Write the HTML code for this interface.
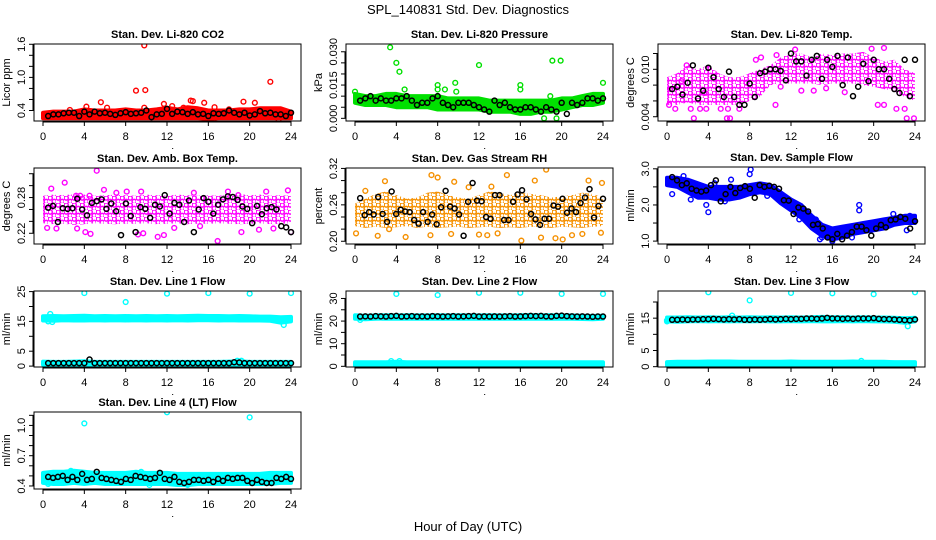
<!DOCTYPE html>
<html><head><meta charset="utf-8"><title>SPL_140831 Std. Dev. Diagnostics</title>
<style>
body{margin:0;background:#fff;}
svg{display:block;font-family:"Liberation Sans",Arial,sans-serif;}
.t{font-size:11px;font-weight:bold;text-anchor:middle;}
.tk{font-size:11px;text-anchor:middle;}
</style></head>
<body>
<svg id="chart" width="936" height="540" viewBox="0 0 936 540" xmlns="http://www.w3.org/2000/svg">
<rect width="936" height="540" fill="#fff"/>
<text x="468" y="14" font-size="13" text-anchor="middle">SPL_140831  Std. Dev. Diagnostics</text>
<text x="468" y="531" font-size="13" text-anchor="middle">Hour of Day (UTC)</text>
</svg>
<script>
// ---------- data ----------
const xTicks = [0,4,8,12,16,20,24];
// P1 CO2
const p1BandLo=[0.26,0.26,0.26,0.26,0.26,0.26,0.26,0.26,0.26,0.26,0.26,0.26,0.26,0.26,0.26,0.26,0.25,0.26,0.26,0.26,0.26,0.26,0.26,0.26,0.26];
const p1BandHi=[0.36,0.38,0.38,0.38,0.42,0.40,0.40,0.40,0.42,0.40,0.40,0.42,0.45,0.42,0.46,0.44,0.40,0.40,0.40,0.42,0.42,0.44,0.44,0.44,0.38];
const p1ColH=[9.8,9,9.9,22,5.6,14.3,14.5,15.6,19.4,20.5,11.7,12.5,4.2,6.2,16.6,9.8,13.6,2.6,18,22.8,16.5];
const p1ColV=[1.58,0.76,0.77,0.92,0.55,0.58,0.57,0.54,0.56,0.54,0.52,0.48,0.47,0.45,0.46,0.45,0.45,0.41,0.42,0.24,0.23];
const p1Blk=[0.30,0.33,0.33,0.35,0.36,0.36,0.30,0.38,0.33,0.38,0.35,0.36,0.34,0.32,0.35,0.37,0.34,0.35,0.36,0.40,0.28,0.33,0.34,0.43,0.34,0.38,0.37,0.34,0.37,0.33,0.34,0.30,0.35,0.34,0.35,0.40,0.36,0.33,0.36,0.31,0.33,0.39,0.35,0.36,0.33,0.33,0.30,0.36];
// P2 Pressure
const p2BandLo=[0.007,0.006,0.006,0.006,0.005,0.005,0.005,0.005,0.004,0.004,0.004,0.004,0.004,0.003,0.003,0.003,0.002,0.002,0.003,0.003,0.004,0.005,0.006,0.006,0.007];
const p2BandHi=[0.011,0.010,0.010,0.011,0.011,0.010,0.010,0.010,0.010,0.009,0.009,0.009,0.009,0.008,0.008,0.008,0.008,0.008,0.008,0.008,0.009,0.009,0.010,0.011,0.011];
const p2ColH=[3.4,4,4.3,4.8,8,8,8.7,9.7,12,16,16,19.1,19.9,24,0,18.3,19.5,18.9,9.8];
const p2ColV=[0.032,0.025,0.021,0.013,0.015,0.013,0.013,0.016,0.024,0.015,0.013,0.026,0.026,0.016,0.012,0.000,0.000,0.010,0.012];
const p2Blk=[0.008,0.009,0.010,0.008,0.009,0.008,0.008,0.009,0.009,0.010,0.008,0.006,0.007,0.007,0.009,0.010,0.007,0.006,0.005,0.007,0.007,0.007,0.006,0.005,0.004,0.003,0.008,0.006,0.007,0.005,0.004,0.004,0.005,0.005,0.004,0.003,0.005,0.004,0.003,0.007,0.002,0.007,0.006,0.007,0.009,0.009,0.008,0.009];
// P3 Li-820 Temp
const p3BandLo=[0.0055,0.0055,0.0058,0.0055,0.0055,0.0055,0.0055,0.0055,0.006,0.0065,0.008,0.0082,0.0082,0.0082,0.0082,0.008,0.0082,0.0082,0.0082,0.008,0.0078,0.0075,0.0072,0.0065,0.006];
const p3BandHi=[0.009,0.0095,0.0105,0.010,0.0105,0.0095,0.009,0.009,0.0095,0.010,0.0105,0.0115,0.012,0.012,0.0115,0.012,0.0118,0.012,0.012,0.0122,0.0115,0.011,0.0112,0.010,0.0095];
const p3ColH=[0.2,0.8,2.3,3.2,3.8,5.2,5.9,7,2.6,5.8,6.1,23.2,23.9,10.5,13,14.2,15.4,17.2,20.4,21,22.2,23,9.1,8.6,12.4,19.8,21,1.9,10.6,0.3,1.4,3.6,7.7,11];
const p3ColV=[0.0055,0.005,0.005,0.005,0.005,0.005,0.005,0.005,0.0038,0.0038,0.0038,0.0038,0.0038,0.0055,0.0073,0.0073,0.0076,0.0071,0.0055,0.0055,0.005,0.005,0.0115,0.0112,0.0125,0.0126,0.0127,0.0105,0.0118,0.0075,0.0085,0.007,0.0083,0.0078];
const p3Blk=[0.0075,0.0078,0.0068,0.0083,0.0105,0.0063,0.0073,0.0102,0.0090,0.0075,0.0065,0.0097,0.0065,0.0055,0.0055,0.0082,0.0065,0.0095,0.0097,0.0100,0.0100,0.0098,0.0086,0.0120,0.0110,0.0110,0.0092,0.0112,0.0117,0.0088,0.0112,0.0103,0.0117,0.0080,0.0115,0.0066,0.0078,0.0107,0.0085,0.0112,0.0100,0.0100,0.0088,0.0075,0.0070,0.0112,0.0066,0.0112];
// P4 Amb Box Temp
const p4BandLo=[0.237,0.235,0.236,0.234,0.235,0.237,0.236,0.235,0.236,0.236,0.237,0.235,0.236,0.237,0.235,0.236,0.236,0.237,0.236,0.235,0.236,0.237,0.235,0.236,0.237];
const p4BandHi=[0.283,0.285,0.284,0.286,0.285,0.283,0.284,0.285,0.284,0.283,0.285,0.284,0.283,0.285,0.284,0.283,0.284,0.283,0.285,0.286,0.284,0.285,0.283,0.284,0.283];
const p4ColH=[5.2,2.1,0.8,5.9,3.2,3.6,4.5,7.1,8.1,9.5,14.6,17.9,21.6,23.7,0.4,1.3,3.3,4.1,4.6,9.2,9.7,11.1,11.7,16.9,19.2,20.9,22.3,24,15.2,12.7,18.9];
const p4ColV=[0.325,0.305,0.295,0.293,0.283,0.283,0.283,0.288,0.29,0.29,0.288,0.29,0.29,0.292,0.229,0.228,0.228,0.222,0.219,0.218,0.22,0.214,0.217,0.207,0.222,0.226,0.228,0.222,0.232,0.229,0.284];
const p4Blk=[0.263,0.266,0.239,0.262,0.261,0.262,0.278,0.260,0.250,0.271,0.274,0.277,0.261,0.270,0.257,0.217,0.270,0.249,0.222,0.264,0.261,0.246,0.268,0.265,0.284,0.253,0.271,0.268,0.239,0.275,0.222,0.260,0.279,0.273,0.253,0.268,0.277,0.282,0.281,0.276,0.265,0.261,0.237,0.266,0.252,0.262,0.264,0.260,0.232,0.230,0.222];
// P5 Gas Stream RH
const p5BandLo=[0.225,0.222,0.224,0.222,0.223,0.225,0.222,0.224,0.222,0.223,0.224,0.222,0.223,0.224,0.222,0.223,0.222,0.224,0.223,0.222,0.224,0.223,0.222,0.224,0.225];
const p5BandHi=[0.262,0.270,0.278,0.282,0.276,0.270,0.272,0.280,0.282,0.276,0.272,0.270,0.276,0.282,0.280,0.276,0.280,0.278,0.276,0.272,0.274,0.276,0.280,0.278,0.272];
const p5ColH=[16.1,18.5,7.4,14.7,9.6,17.4,22.6,2.9,23.9,8,0.1,2.2,4.9,7.3,9.3,12,12.8,13.8,18,19.4,20.1,21,22,23.8,3.3,1,11,13.2];
const p5ColV=[0.201,0.318,0.309,0.309,0.298,0.300,0.300,0.299,0.296,0.305,0.213,0.209,0.207,0.210,0.212,0.211,0.210,0.213,0.206,0.205,0.203,0.210,0.212,0.214,0.22,0.283,0.289,0.290];
const p5Blk=[0.271,0.243,0.248,0.244,0.273,0.245,0.232,0.282,0.245,0.252,0.249,0.248,0.235,0.229,0.248,0.232,0.244,0.228,0.256,0.283,0.257,0.254,0.244,0.209,0.265,0.296,0.267,0.266,0.240,0.237,0.276,0.276,0.235,0.235,0.265,0.277,0.284,0.269,0.245,0.236,0.227,0.237,0.237,0.259,0.257,0.270,0.247,0.254,0.248,0.263,0.272,0.286,0.239,0.258,0.270];
// P6 Sample Flow
const p6BandLo=[2.55,2.5,2.35,2.2,2.2,2.15,2.15,2.2,2.3,2.35,2.3,2.05,1.85,1.65,1.35,1.15,1.05,1.1,1.2,1.25,1.3,1.35,1.45,1.5,1.5];
const p6BandHi=[2.75,2.75,2.7,2.6,2.5,2.5,2.5,2.5,2.55,2.6,2.55,2.35,2.15,2.0,1.7,1.45,1.35,1.4,1.45,1.5,1.55,1.6,1.65,1.7,1.7];
const p6ColH=[8.1,8,18.6,18.6,4,3.8,2.3,1.6,6.2,9.7,4.6,15,16,17.9,23.2,21.9,23.5,0.5,5.6,12.8,14.4,14.8];
const p6ColV=[2.98,2.85,2.0,1.85,1.8,2.0,2.15,2.8,2.7,2.25,2.6,1.1,1.0,1.1,1.3,1.75,1.7,2.3,2.1,1.6,1.6,1.05];
const p6Blk=[2.77,2.68,2.55,2.6,2.45,2.4,2.37,2.4,2.55,2.68,2.1,2.3,2.5,2.33,2.47,2.52,2.45,2.2,2.55,2.5,2.53,2.5,2.45,2.13,2.12,1.75,1.93,1.9,1.82,1.45,1.47,1.35,1.1,1.05,1.2,1.05,1.15,1.25,1.4,1.4,1.3,1.15,1.35,1.45,1.38,1.58,1.6,1.67,1.62,1.35,1.55];
// P7 Line 1 Flow
const p7BandLo=[15.3,15.2,15.4,15.3,15.3,15.4,15.3,15.4,15.3,15.4,15.3,15.4,15.3,15.4,15.3,15.4,15.4,15.3,15.4,15.3,15.3,15.3,15.2,14.6,15.0];
const p7BandHi=[16.7,16.8,16.7,16.8,16.9,16.7,16.8,16.7,16.8,16.7,16.8,16.7,16.8,16.7,16.8,16.9,16.8,16.8,16.7,16.8,16.7,16.6,16.6,16.4,16.5];
const p7Band2Lo=[0.5,0.5,0.5,0.5,0.5,0.5,0.5,0.5,0.5,0.5,0.5,0.5,0.5,0.5,0.5,0.5,0.5,0.5,0.5,0.5,0.5,0.5,0.5,0.5,0.5];
const p7Band2Hi=[1.5,1.4,1.4,1.5,1.6,1.4,1.4,1.4,1.4,1.4,1.4,1.4,1.4,1.4,1.4,1.4,1.4,1.4,1.5,1.6,1.4,1.4,1.4,1.4,1.4];
const p7ColH=[4,8,12,16,20,24,0.7,23.3,0.5,0.9,18.8,19.2,11.7];
const p7ColV=[24.5,21.5,24.3,24.5,24.3,24.5,17.5,13.8,15,14.8,1.8,1.8,0.2];
const p7Blk=[1.0,1.0,1.0,1.0,1.0,1.0,1.0,1.0,2.2,1.0,1.0,1.0,1.0,1.0,1.0,1.0,1.0,1.0,1.0,1.0,1.0,1.0,1.0,1.0,1.0,1.0,1.0,1.0,1.0,1.0,1.0,1.0,1.0,1.0,1.0,1.0,1.3,1.2,1.0,1.0,1.0,1.0,1.0,1.0,1.0,1.0,1.0,1.0];
// P8 Line 2 Flow
const p8BandLo=[21.0,20.8,21.0,21.1,21.0,21.1,21.0,21.1,21.0,21.1,21.0,21.0,21.1,21.0,21.1,21.0,21.0,21.1,21.0,21.1,21.0,21.0,20.9,20.8,21.0];
const p8BandHi=[22.6,22.4,22.5,22.6,22.5,22.6,22.5,22.5,22.6,22.5,22.6,22.5,22.5,22.6,22.5,22.5,22.6,22.7,22.6,22.6,22.5,22.5,22.4,22.3,22.4];
const p8Band2Lo=[0.4,0.4,0.4,0.4,0.4,0.4,0.4,0.4,0.4,0.4,0.4,0.4,0.4,0.4,0.4,0.4,0.4,0.4,0.4,0.4,0.4,0.4,0.4,0.4,0.4];
const p8Band2Hi=[1.8,1.8,1.8,1.8,2.0,1.8,1.8,1.8,1.8,1.8,1.8,1.8,1.8,1.8,1.8,1.8,1.8,1.8,1.8,1.8,1.8,1.8,1.8,1.8,1.8];
const p8ColH=[4,8,12,16,20,24,3.5,4.3,0.5];
const p8ColV=[32,31.5,32.5,32.5,32,32,2.3,2.3,20.5];
const p8Blk=[22.0,22.1,22.0,22.2,22.1,22.0,22.2,22.3,22.0,22.1,22.2,22.0,22.1,22.0,22.2,22.1,22.0,22.1,22.2,22.0,22.1,22.2,22.3,22.0,22.1,22.0,22.1,22.0,22.1,22.2,22.0,22.1,22.2,22.3,22.2,22.3,22.1,22.0,22.3,22.4,22.2,22.1,22.0,22.1,22.0,21.9,22.0,22.0];
// P9 Line 3 Flow
const p9BandLo=[14.0,13.9,14.0,14.1,14.0,14.1,14.0,14.1,14.0,14.1,14.0,14.0,14.1,14.0,14.1,14.0,14.0,14.1,14.0,14.1,14.0,14.0,13.9,13.6,14.0];
const p9BandHi=[15.2,15.2,15.3,15.2,15.3,15.2,15.3,15.2,15.3,15.2,15.3,15.2,15.3,15.2,15.3,15.4,15.3,15.3,15.2,15.3,15.2,15.2,15.1,15.0,15.1];
const p9Band2Lo=[0.4,0.4,0.4,0.4,0.4,0.4,0.4,0.4,0.4,0.4,0.4,0.4,0.4,0.4,0.4,0.4,0.4,0.4,0.4,0.4,0.4,0.4,0.4,0.4,0.4];
const p9Band2Hi=[1.4,1.5,1.5,1.5,1.6,1.6,1.6,1.5,1.5,1.5,1.5,1.5,1.6,1.5,1.5,1.5,1.5,1.5,1.6,1.5,1.5,1.5,1.4,1.4,1.4];
const p9ColH=[4,8,12,16,20,24,23.3,6.3,18.8,0,0];
const p9ColV=[23,20.5,22.8,22.7,22.4,23,12.5,15.8,1.8,14.3,14.0];
const p9Blk=[14.5,14.5,14.6,14.5,14.6,14.6,14.7,14.7,14.8,14.7,14.6,14.7,14.6,14.7,14.5,14.5,14.6,14.5,14.6,14.7,14.6,14.7,14.8,14.7,14.8,14.8,14.9,14.9,14.8,14.9,15.1,14.9,14.9,14.8,14.9,14.8,14.9,14.9,14.9,15.0,14.8,14.7,14.7,14.6,14.5,14.4,14.3,14.6];
// P10 Line 4 (LT) Flow
const p10BandLo=[0.43,0.42,0.42,0.43,0.42,0.43,0.42,0.42,0.42,0.42,0.42,0.42,0.42,0.41,0.41,0.42,0.42,0.42,0.42,0.42,0.42,0.42,0.42,0.43,0.43];
const p10BandHi=[0.53,0.54,0.54,0.55,0.54,0.53,0.53,0.53,0.53,0.54,0.53,0.53,0.53,0.52,0.52,0.52,0.52,0.52,0.52,0.52,0.52,0.52,0.53,0.53,0.53];
const p10ColH=[4,12,20,2.7,9.5,14,10.3,0.5];
const p10ColV=[1.02,1.13,1.08,0.55,0.54,0.41,0.41,0.42];
const p10Blk=[0.49,0.48,0.49,0.50,0.46,0.49,0.46,0.52,0.46,0.47,0.54,0.48,0.47,0.46,0.45,0.44,0.47,0.46,0.50,0.49,0.48,0.47,0.48,0.53,0.47,0.46,0.49,0.44,0.43,0.44,0.46,0.46,0.45,0.46,0.44,0.47,0.45,0.48,0.47,0.48,0.48,0.45,0.43,0.46,0.44,0.43,0.43,0.48,0.47,0.49,0.47];

// ---------- layout ----------
const panels=[
 {name:'co2',title:'Stan. Dev. Li-820 CO2',yt:'Licor ppm',col:0,top:44,bot:121,ymin:0.21,ymax:1.605,ticks:[0.4,0.6,0.8,1.0,1.2,1.4,1.6],labels:['0.4','1.0','1.6'],labelAt:[0.4,1.0,1.6],color:'#ff0000',tex:false,bands:[[p1BandLo,p1BandHi]],colH:p1ColH,colV:p1ColV,blk:p1Blk},
 {name:'pressure',title:'Stan. Dev. Li-820 Pressure',yt:'kPa',col:1,top:44,bot:121,ymin:-0.0012,ymax:0.0335,ticks:[0,0.005,0.01,0.015,0.02,0.025,0.03],labels:['0.000','0.015','0.030'],labelAt:[0,0.015,0.03],color:'#00e000',tex:false,bands:[[p2BandLo,p2BandHi]],colH:p2ColH,colV:p2ColV,blk:p2Blk},
 {name:'li820-temp',title:'Stan. Dev. Li-820 Temp.',yt:'degrees C',col:2,top:44,bot:121,ymin:0.00346,ymax:0.0132,ticks:[0.004,0.006,0.008,0.010,0.012],labels:['0.004','0.010'],labelAt:[0.004,0.010],color:'#ff00ff',tex:true,bands:[[p3BandLo,p3BandHi]],colH:p3ColH,colV:p3ColV,blk:p3Blk},
 {name:'amb-box-temp',title:'Stan. Dev. Amb. Box Temp.',yt:'degrees C',col:0,top:168,bot:244,ymin:0.202,ymax:0.3296,ticks:[0.22,0.24,0.26,0.28,0.30,0.32],labels:['0.22','0.28'],labelAt:[0.22,0.28],color:'#ff00ff',tex:true,bands:[[p4BandLo,p4BandHi]],colH:p4ColH,colV:p4ColV,blk:p4Blk},
 {name:'gas-rh',title:'Stan. Dev. Gas Stream RH',yt:'percent',col:1,top:168,bot:244,ymin:0.1955,ymax:0.3207,ticks:[0.20,0.22,0.24,0.26,0.28,0.30,0.32],labels:['0.20','0.26','0.32'],labelAt:[0.20,0.26,0.32],color:'#f59000',tex:true,bands:[[p5BandLo,p5BandHi]],colH:p5ColH,colV:p5ColV,blk:p5Blk},
 {name:'sample-flow',title:'Stan. Dev. Sample Flow',yt:'ml/min',col:2,top:167,bot:244,ymin:0.92,ymax:3.05,ticks:[1.0,1.5,2.0,2.5,3.0],labels:['1.0','2.0','3.0'],labelAt:[1.0,2.0,3.0],color:'#0000ff',tex:false,bands:[[p6BandLo,p6BandHi]],colH:p6ColH,colV:p6ColV,blk:p6Blk},
 {name:'line1-flow',title:'Stan. Dev. Line 1 Flow',yt:'ml/min',col:0,top:291,bot:367,ymin:-0.3,ymax:25.2,ticks:[0,5,10,15,20,25],labels:['0','5','15','25'],labelAt:[0,5,15,25],color:'#00ffff',tex:false,bands:[[p7BandLo,p7BandHi],[p7Band2Lo,p7Band2Hi]],colH:p7ColH,colV:p7ColV,blk:p7Blk},
 {name:'line2-flow',title:'Stan. Dev. Line 2 Flow',yt:'ml/min',col:1,top:291,bot:367,ymin:-0.3,ymax:33.3,ticks:[0,5,10,15,20,25,30],labels:['0','10','20','30'],labelAt:[0,10,20,30],color:'#00ffff',tex:false,bands:[[p8BandLo,p8BandHi],[p8Band2Lo,p8Band2Hi]],colH:p8ColH,colV:p8ColV,blk:p8Blk},
 {name:'line3-flow',title:'Stan. Dev. Line 3 Flow',yt:'ml/min',col:2,top:291,bot:367,ymin:-0.1,ymax:23.4,ticks:[0,5,10,15,20],labels:['0','5','15'],labelAt:[0,5,15],color:'#00ffff',tex:false,bands:[[p9BandLo,p9BandHi],[p9Band2Lo,p9Band2Hi]],colH:p9ColH,colV:p9ColV,blk:p9Blk},
 {name:'line4-flow',title:'Stan. Dev. Line 4 (LT) Flow',yt:'ml/min',col:0,top:412,bot:489,ymin:0.37,ymax:1.133,ticks:[0.4,0.5,0.6,0.7,0.8,0.9,1.0,1.1],labels:['0.4','0.7','1.0'],labelAt:[0.4,0.7,1.0],color:'#00ffff',tex:false,bands:[[p10BandLo,p10BandHi]],colH:p10ColH,colV:p10ColV,blk:p10Blk}
];

const NS='http://www.w3.org/2000/svg';
const svg=document.getElementById('chart');
function mk(tag,attrs,parent){const e=document.createElementNS(NS,tag);for(const k in attrs)e.setAttribute(k,attrs[k]);(parent||svg).appendChild(e);return e;}
const defs=mk('defs',{});

panels.forEach(p=>{
  const L=34+312*p.col, R=301+312*p.col;
  const x0=43+312*p.col, x24=291+312*p.col;
  const xs=h=>x0+(x24-x0)*h/24;
  const ys=v=>p.bot-(v-p.ymin)/(p.ymax-p.ymin)*(p.bot-p.top);
  let fill=p.color;
  if(p.tex){
    const pat=mk('pattern',{id:'pat-'+p.name,width:8,height:7,patternUnits:'userSpaceOnUse'},defs);
    mk('circle',{cx:2.2,cy:2,r:2.1,fill:'none',stroke:p.color,'stroke-width':1.5},pat);
    mk('circle',{cx:6.2,cy:5.5,r:2.1,fill:'none',stroke:p.color,'stroke-width':1.5},pat);
    fill='url(#pat-'+p.name+')';
  }
  const g=mk('g',{});
  
  
  const clip=mk('clipPath',{id:'clip-'+p.name},g);
  mk('rect',{x:L,y:p.top,width:R-L,height:p.bot-p.top},clip);
  const plot=mk('g',{'clip-path':'url(#clip-'+p.name+')'},g);
  
  
  p.bands.forEach((b,bi)=>{
    const lo=b[0],hi=b[1];const n=lo.length;let pts=[];
    for(let i=0;i<n;i++)pts.push(xs(i*24/(n-1)).toFixed(1)+','+ys(hi[i]).toFixed(1));
    for(let i=n-1;i>=0;i--)pts.push(xs(i*24/(n-1)).toFixed(1)+','+ys(lo[i]).toFixed(1));
    const poly=mk('polygon',{points:pts.join(' '),fill:fill,stroke:p.tex?'none':p.color,'stroke-width':4,'stroke-linejoin':'round'},plot);
    
    
  });
  p.colV.forEach((v,i)=>{
    const c=mk('circle',{cx:xs(p.colH[i]),cy:ys(v),r:2.4,fill:'none',stroke:p.color,'stroke-width':1.4},plot);
    
    
  });
  const nb=p.blk.length;
  p.blk.forEach((v,i)=>{
    const h=0.5+i*23.5/(nb-1);
    const c=mk('circle',{cx:xs(h),cy:ys(v),r:2.5,fill:'none',stroke:'#000','stroke-width':1.5},plot);
    
    
  });
  const box=mk('rect',{x:L,y:p.top,width:R-L,height:p.bot-p.top,fill:'none',stroke:'#000','stroke-width':1},g);
  
  
  const t=mk('text',{x:(L+R)/2,y:p.top-6,class:'t'},g);t.textContent=p.title;
  
  
  const xa=mk('g',{},g);
  
  
  mk('line',{x1:x0,x2:x24,y1:p.bot+1,y2:p.bot+1,stroke:'#000'},xa);
  xTicks.forEach(h=>{
    mk('line',{x1:xs(h),x2:xs(h),y1:p.bot,y2:p.bot+5,stroke:'#000'},xa);
    const tx=mk('text',{x:xs(h),y:p.bot+19,class:'tk'},xa);tx.textContent=h;
  });
  mk('rect',{x:xs(12.5),y:p.bot+27,width:1,height:1,fill:'#000'},xa);
  const ya=mk('g',{},g);
  
  
  mk('line',{x1:L-1,x2:L-1,y1:ys(p.ticks[0]),y2:ys(p.ticks[p.ticks.length-1]),stroke:'#000'},ya);
  p.ticks.forEach(v=>{mk('line',{x1:L-5,x2:L,y1:ys(v),y2:ys(v),stroke:'#000'},ya);});
  p.labels.forEach((s,i)=>{
    const yy=ys(p.labelAt[i]);const tx=mk('text',{x:L-9,y:yy,class:'tk',transform:'rotate(-90 '+(L-9)+' '+yy+')'},ya);tx.textContent=s;
  });
  const ytl=mk('text',{x:L-24,y:(p.top+p.bot)/2,class:'tk',transform:'rotate(-90 '+(L-24)+' '+(p.top+p.bot)/2+')'},ya);
  ytl.textContent=p.yt;
  
  
});
</script>
</body></html>
